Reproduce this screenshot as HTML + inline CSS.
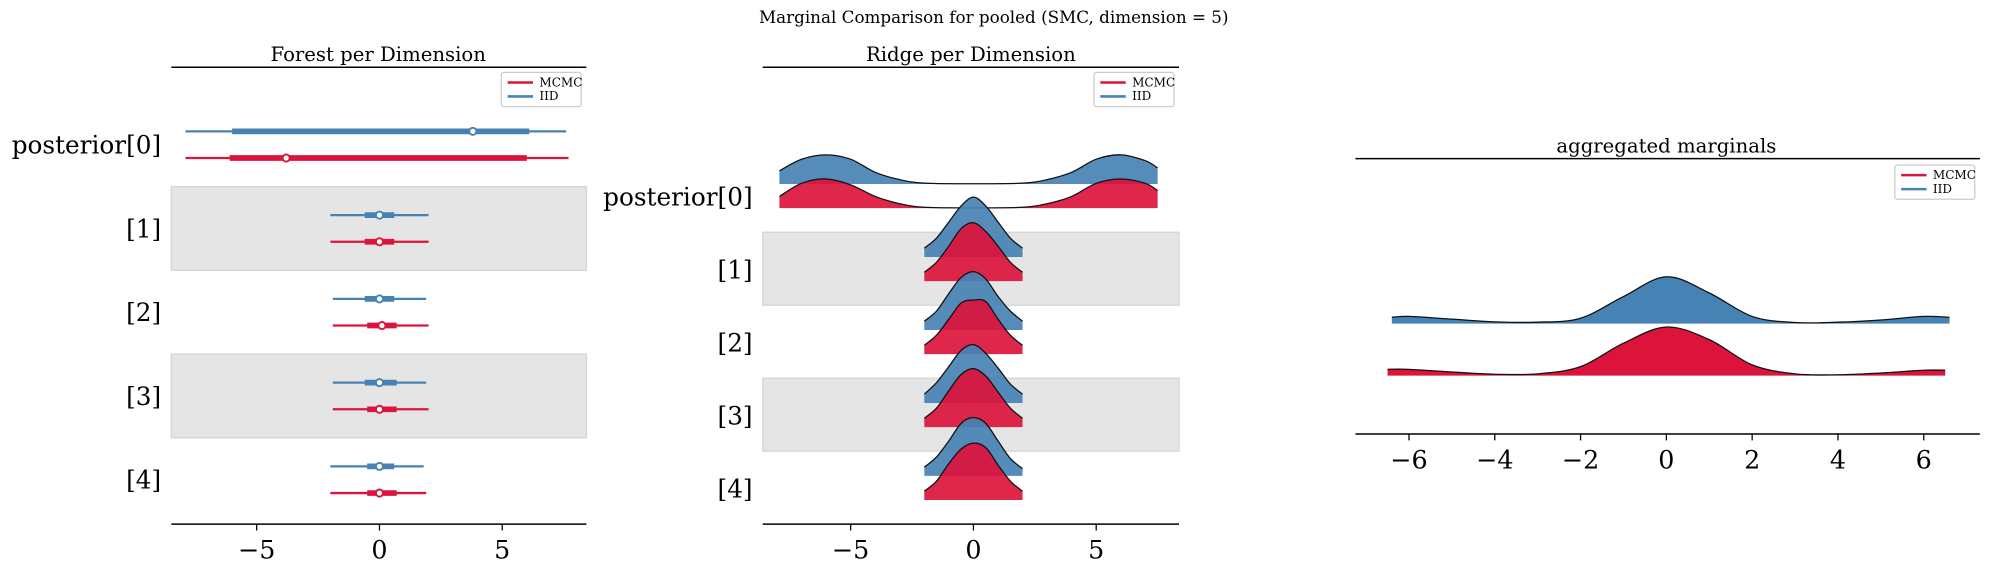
<!DOCTYPE html>
<html><head><meta charset="utf-8"><style>
html,body{margin:0;padding:0;background:#fff;}
svg{display:block;font-family:"DejaVu Serif","Liberation Serif",serif;}
</style></head><body>
<svg id="fig" width="1990" height="568" viewBox="0 0 1568 447.55" preserveAspectRatio="none" xmlns="http://www.w3.org/2000/svg">
<text x="783" y="18" font-size="13.2" text-anchor="middle">Marginal Comparison for pooled (SMC, dimension = 5)</text>
</svg>
<script>
// ---------- data ----------
var rowLabels = ["posterior[0]","[1]","[2]","[3]","[4]"];
var seriesNames = ["MCMC","IID"];
var xTicks12 = [-5,0,5];
var xTicks3 = [-6,-4,-2,0,2,4,6];
// forest: [hdiLow, iqrLow, median, iqrHigh, hdiHigh]
var forestIID  = [[-7.9,-6.0,3.8,6.1,7.6],[-2.0,-0.6,0,0.6,2.0],[-1.9,-0.6,0,0.6,1.9],[-1.9,-0.6,0,0.7,1.9],[-2.0,-0.5,0,0.6,1.8]];
var forestMCMC = [[-7.9,-6.1,-3.8,6.0,7.7],[-2.0,-0.6,0,0.6,2.0],[-1.9,-0.5,0.1,0.7,2.0],[-1.9,-0.5,0,0.7,2.0],[-2.0,-0.5,0,0.7,1.9]];
// ridge densities
var ridgeX0 = [-7.9,-7,-6,-5,-4,-3,-2,0,2,3,4,5,6,7,7.5];
var ridgeIID0  = [0.09,0.17,0.2,0.17,0.08,0.03,0.006,0.002,0.006,0.03,0.08,0.17,0.2,0.16,0.11];
var ridgeMCMC0 = [0.08,0.17,0.2,0.16,0.08,0.03,0.006,0.002,0.006,0.03,0.08,0.17,0.2,0.17,0.12];
var ridgeXc = [-2,-1.5,-1,-0.5,0,0.5,1,1.5,2];
var ridgeIIDc  = [[0.06,0.13,0.24,0.35,0.41,0.35,0.24,0.13,0.06],[0.06,0.13,0.25,0.36,0.40,0.35,0.23,0.13,0.06],[0.06,0.14,0.25,0.36,0.40,0.34,0.24,0.13,0.06],[0.06,0.13,0.24,0.36,0.40,0.36,0.24,0.12,0.05]];
var ridgeMCMCc = [[0.06,0.13,0.24,0.36,0.40,0.34,0.24,0.13,0.06],[0.06,0.13,0.24,0.35,0.37,0.36,0.24,0.13,0.06],[0.06,0.13,0.25,0.36,0.40,0.35,0.24,0.13,0.06],[0.06,0.13,0.25,0.35,0.39,0.36,0.24,0.13,0.06]];
// aggregated
var aggXIID = [-6.4,-6,-5,-4,-3,-2,-1,0,1,2,3,4,5,6,6.6];
var aggIID  = [0.035,0.04,0.025,0.01,0.008,0.03,0.15,0.26,0.17,0.04,0.006,0.008,0.02,0.04,0.035];
var aggXMCMC = [-6.5,-6,-5,-4,-3,-2,-1,0,1,2,3,4,5,6,6.5];
var aggMCMC = [0.035,0.035,0.02,0.008,0.01,0.05,0.18,0.27,0.2,0.06,0.01,0.005,0.015,0.03,0.03];

var RED="#DC143C", BLUE="#4682B4", NS="http://www.w3.org/2000/svg";
var svg=document.getElementById("fig");
function mk(tag,attrs,parent,txt){var e=document.createElementNS(NS,tag);for(var k in attrs)e.setAttribute(k,attrs[k]);if(txt!=null)e.textContent=txt;(parent||svg).appendChild(e);return e;}
function smooth(pts){var d="M"+pts[0][0]+","+pts[0][1];for(var i=0;i<pts.length-1;i++){var p0=pts[i-1]||pts[i],p1=pts[i],p2=pts[i+1],p3=pts[i+2]||p2;
d+=" C"+(p1[0]+(p2[0]-p0[0])/6)+","+(p1[1]+(p2[1]-p0[1])/6)+" "+(p2[0]-(p3[0]-p1[0])/6)+","+(p2[1]-(p3[1]-p1[1])/6)+" "+p2[0]+","+p2[1];}return d;}

function xAxis(g,sx,x0,x1,y,ticks){
  var ax=mk("g",{},g);
  mk("line",{x1:x0,x2:x1,y1:y,y2:y,stroke:"#000","stroke-width":1.2},ax);
  ticks.forEach(function(t){var tg=mk("g",{},ax);
    mk("line",{x1:sx(t),x2:sx(t),y1:y,y2:y+5,stroke:"#000","stroke-width":1},tg);
    mk("text",{x:sx(t),y:y+27,"font-size":20,"text-anchor":"middle"},tg,(t<0?"\u2212"+(-t):""+t));});
}
function title(g,x,y,t,name){var e=mk("text",{x:x,y:y,"font-size":15.5,"text-anchor":"middle"},g,t);}
function legend(g,x,y){var lg=mk("g",{},g);
  mk("rect",{x:x,y:y,width:63,height:27,rx:2,fill:"#fff",stroke:"#ccc"},lg);
  [[RED,"MCMC"],[BLUE,"IID"]].forEach(function(s,i){var e=mk("g",{},lg);
    mk("line",{x1:x+5,x2:x+25,y1:y+8+i*11,y2:y+8+i*11,stroke:s[0],"stroke-width":2},e);
    mk("text",{x:x+30,y:y+11+i*11,"font-size":9.5},e,s[1]);});}

// ---------- panel 1: forest ----------
(function(){
  var g=mk("g",{});
  var sx=function(v){return 299+v*19.35;};
  var L=135,R=462;
  [1,3].forEach(function(r){var b=mk("rect",{x:L,y:147+(r-1)*66,width:R-L,height:66,fill:"#e5e5e5",stroke:"#d5d5d5"},g);});
  mk("line",{x1:L,x2:R,y1:53,y2:53,stroke:"#000","stroke-width":1.2},g);
  title(g,298,48,"Forest per Dimension","forest-title");
  rowLabels.forEach(function(lab,r){var cy=114+r*66;
    var t=mk("text",{x:127,y:cy+7,"font-size":19.5,"text-anchor":"end"},g,lab);
    [[forestIID,BLUE,-10.5,"iid"],[forestMCMC,RED,10.5,"mcmc"]].forEach(function(s){var d=s[0][r],y=cy+s[2];
      var e=mk("g",{},g);
      mk("line",{x1:sx(d[0]),x2:sx(d[4]),y1:y,y2:y,stroke:s[1],"stroke-width":1.8},e);
      mk("line",{x1:sx(d[1]),x2:sx(d[3]),y1:y,y2:y,stroke:s[1],"stroke-width":4.5},e);
      mk("circle",{cx:sx(d[2]),cy:y,r:2.8,fill:"#fff",stroke:s[1],"stroke-width":1.5},e);});
  });
  xAxis(g,sx,L,R,413,xTicks12);
  legend(g,395,57);
})();

// ---------- panel 2: ridge ----------
(function(){
  var g=mk("g",{});
  var sx=function(v){return 767+v*19.35;};
  var L=601,R=929,H=115;
  [1,3].forEach(function(r){var b=mk("rect",{x:L,y:183+(r-1)*57.5,width:R-L,height:57.5,fill:"#e5e5e5",stroke:"#d5d5d5"},g);});
  mk("line",{x1:L,x2:R,y1:53,y2:53,stroke:"#000","stroke-width":1.2},g);
  title(g,765,48,"Ridge per Dimension","ridge-title");
  function ridge(xs,ys,base,col,name){
    var pts=xs.map(function(x,i){return [sx(x),base-ys[i]*H];});
    var d=smooth(pts);
    var e=mk("g",{},g);
    mk("path",{d:d+" L"+pts[pts.length-1][0]+","+base+" L"+pts[0][0]+","+base+" Z",fill:col,"fill-opacity":0.92},e);
    mk("path",{d:d,fill:"none",stroke:"#111","stroke-width":1},e);
  }
  rowLabels.forEach(function(lab,r){
    var t=mk("text",{x:593,y:162+r*57.5,"font-size":19.5,"text-anchor":"end"},g,lab);
    var bb=145+r*57.5;
    if(r===0){ridge(ridgeX0,ridgeIID0,bb,BLUE,"ridge-iid-0");ridge(ridgeX0,ridgeMCMC0,bb+19,RED,"ridge-mcmc-0");}
    else{ridge(ridgeXc,ridgeIIDc[r-1],bb,BLUE,"ridge-iid-"+r);ridge(ridgeXc,ridgeMCMCc[r-1],bb+19,RED,"ridge-mcmc-"+r);}
  });
  xAxis(g,sx,L,R,413,xTicks12);
  legend(g,862,57);
})();

// ---------- panel 3: aggregated ----------
(function(){
  var g=mk("g",{});
  var sx=function(v){return 1313+v*33.8;};
  var L=1068,R=1560,H=142;
  mk("line",{x1:L,x2:R,y1:125,y2:125,stroke:"#000","stroke-width":1.2},g);
  title(g,1313,120,"aggregated marginals","aggregated-title");
  function ridge(xs,ys,base,col,name){
    var pts=xs.map(function(x,i){return [sx(x),base-ys[i]*H];});
    var d=smooth(pts);
    var e=mk("g",{},g);
    mk("path",{d:d+" L"+pts[pts.length-1][0]+","+base+" L"+pts[0][0]+","+base+" Z",fill:col},e);
    mk("path",{d:d,fill:"none",stroke:"#111","stroke-width":1},e);
  }
  ridge(aggXIID,aggIID,255,BLUE,"aggregated-iid");
  ridge(aggXMCMC,aggMCMC,296,RED,"aggregated-mcmc");
  xAxis(g,sx,L,R,342,xTicks3);
  legend(g,1493,130);
})();
</script>
</body></html>
